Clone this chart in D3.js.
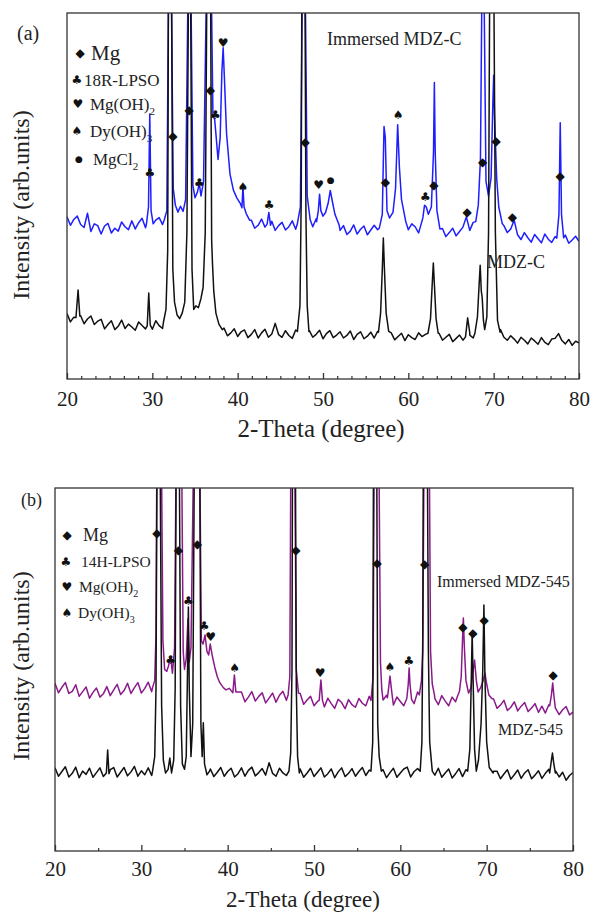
<!DOCTYPE html>
<html><head><meta charset="utf-8">
<script src="https://cdn.jsdelivr.net/npm/d3@7"></script>
<style>body{margin:0;background:#fff}svg{display:block}</style>
</head><body>
<svg id="chart" width="592" height="913"></svg>
<script>
// ---------- data ----------
const twoThetaStart = 20, twoThetaStep = 0.4;   // regular 2θ sampling of the baselines
const xTickValues = [20, 30, 40, 50, 60, 70, 80];

// Panel (a): Immersed MDZ-C (blue), MDZ-C (black); intensity in % of panel height
const blueAGrid = [
 44.3,42.0,43.6,44.5,42.2,41.4,45.3,40.3,42.4,41.9,
 39.6,41.8,42.5,39.9,41.2,40.4,42.9,41.6,40.8,43.2,
 41.0,42.7,43.9,41.3,42.5,40.9,43.4,44.1,42.2,43.0,
 44,44,44,44,44,44,44,44,44,44,
 44,44,44,44,44,44,44,44,44,44,
 44,44,44,44,43.4,41.2,42.0,43.7,41.5,41.8,
 43.1,40.6,41.9,42.8,40.7,41.6,43.2,40.9,43.0,44,
 44,44,41.6,43.8,43,43,43,43,43,42.0,
 40.6,41.9,39.5,40.4,42.1,39.6,40.9,41.8,39.4,40.7,
 42.0,40.8,42,42,42,42,42,42,42,42.6,
 40.8,42.4,41.6,39.9,42,42,42,42,42,42,
 41.1,38.9,40.0,41.2,39.1,40.3,41.5,44.3,40.6,42.8,
 42,42,42,42,42,42,42,42,41.9,40.0,
 41.0,43.4,39.4,38.1,40.0,38.6,37.4,39.5,38.3,37.2,
 39.6,38.2,37.3,38.9,38,38,39.3,37.1,38.0,39.0,
 37.6];
const blueAPeaks = [
 [[29.3,42.2],[29.55,47],[29.7,72.4],[29.85,46],[30.1,42.4]],
 [[31.4,43.5],[31.7,46],[31.88,100],[32.05,130],[32.25,100],[32.45,52],[32.7,47.5],[33.0,45.6],[33.3,47.2],[33.6,45.8],[33.9,49],
  [34.15,100],[34.35,130],[34.55,100],[34.75,53],[35.0,49.5],[35.3,51.2],[35.5,53.5],[35.7,50],[36.0,54],[36.3,100],[36.6,140],[36.95,100],
  [37.1,72],[37.3,71],[37.45,67],[37.7,60],[37.95,66],[38.15,84],[38.3,90.5],[38.45,82],[38.7,67],[39.1,56],[39.5,51.6],[39.9,49.5],
  [40.3,48],[40.5,46.8],[40.62,52.5],[40.75,47],[41.0,45.2],[41.4,43.4]],
 [[43.45,42.3],[43.65,45.5],[43.85,42]],
 [[47.0,42.5],[47.35,47],[47.55,100],[47.75,140],[47.95,100],[48.15,50],[48.5,43.5]],
 [[49.25,43],[49.45,46],[49.6,50.5],[49.75,46],[50.0,44.5],[50.3,45.5],[50.6,48],[50.85,51.5],[51.1,48.5],[51.4,45],[51.9,42]],
 [[56.6,41.2],[56.95,45],[57.15,69],[57.3,66],[57.5,46],[57.8,44],[58.2,45.5],[58.5,52],[58.75,69.5],[58.95,58],[59.2,49],[59.7,43]],
 [[61.4,41.5],[61.7,44],[61.9,47.5],[62.1,47],[62.35,45],[62.7,47],[62.95,62],[63.05,81],[63.15,62],[63.35,46],[63.7,41]],
 [[67.9,43],[68.2,47.5],[68.45,60],[68.6,100],[68.75,130],[68.9,100],[69.1,54],[69.4,50],[69.7,55],[69.9,75],[70.0,83],[70.1,72],
  [70.35,55],[70.6,47],[71.0,42.5]],
 [[77.4,38.5],[77.65,45],[77.8,70],[77.95,45],[78.2,38.6]]
];
const blackAGrid = [
 17.9,15.6,16.9,22.5,17.3,15.1,16.4,17.2,14.9,15.8,
 16.3,13.7,14.9,15.9,13.5,14.4,16.1,13.8,15.0,14.2,
 13.3,15.6,14.6,13.7,15,13.6,15.9,14.6,13.8,15,
 15,15,15,15,15,15,15,15,15,15,
 15,15,15,15,15,15,13.9,11.8,12.6,13.7,
 11.6,12.9,13.4,11.3,12.2,13.5,11.2,12.6,13.6,11.4,
 12.3,15.2,12.1,11.4,13.2,11.9,11.1,13.4,13,13,
 13,13.2,11.4,12.2,13.3,11.0,12.4,13.2,11.3,12.0,
 12.9,11.2,11.9,13.1,10.8,12.2,12.9,11.0,11.7,12.8,
 11.2,13.0,12,12,12,12.6,10.7,11.6,12.5,10.5,
 12.1,11.3,10.8,12.6,11.6,12.2,12,12,12,12.5,
 10.6,11.4,12.2,10.2,11.1,12.0,10.6,13.5,12.6,11.2,
 12,12,12,12,12,12,12,13.5,11.4,10.6,
 11.8,10.9,9.8,11.4,10.6,9.6,11.2,10.4,9.5,11.3,
 10.0,9.4,10.9,11.1,12.4,10.5,9.6,10.8,9.2,10.3,
 9.9];
const blackAPeaks = [
 [[21.05,16.8],[21.3,24.3],[21.5,17.2]],
 [[29.4,14.5],[29.58,23.5],[29.75,14.8]],
 [[31.3,15.5],[31.6,19],[31.8,35],[31.88,100],[32.07,140],[32.27,100],[32.4,30],[32.6,21],[32.9,17.5],[33.2,16.5],[33.5,18],[33.8,21],
  [34.05,40],[34.22,100],[34.36,140],[34.5,100],[34.65,30],[34.85,19],[35.1,20],[35.4,19.5],[35.7,22],[35.95,25],[36.2,40],[36.37,100],
  [36.6,150],[36.84,100],[36.95,38],[37.05,31.5],[37.2,24],[37.45,18],[37.8,15],[38.2,13.5]],
 [[47.0,13],[47.3,20],[47.45,50],[47.51,100],[47.7,150],[47.9,100],[48.0,45],[48.15,20],[48.35,13]],
 [[56.5,12.8],[56.75,18],[56.95,30],[57.07,38.5],[57.2,30],[57.4,18],[57.7,13]],
 [[62.3,12.5],[62.6,16.5],[62.8,26],[62.93,31.7],[63.05,26],[63.25,16.5],[63.5,12.5]],
 [[66.7,11.5],[66.95,16.7],[67.2,12]],
 [[67.8,12.5],[68.1,17],[68.3,26],[68.42,31.1],[68.55,24],[68.65,22.4],[68.8,16],[68.95,13.5],[69.2,17],[69.4,40],[69.52,100],
  [69.78,150],[70.04,100],[70.2,40],[70.45,16],[70.75,12.8]]
];

// Panel (b): Immersed MDZ-545 (purple), MDZ-545 (black)
const purpleBGrid = [
 46.2,43.6,45.1,46.4,43.4,44.0,45.8,42.6,43.9,45.2,
 42.1,43.7,44.9,42.4,43.3,45.3,42.8,44.4,45.9,43.1,
 44.2,46.2,43.4,45.0,46.4,43.5,44.8,46.5,43.9,45,
 45,45,45,45,45,45,45,45,45,45,
 45,45,45,45,45,45,45,45,45,45,
 45,45,45,45,43.8,41.1,42.4,43.9,41.3,42.6,
 43.6,40.8,42.1,43.5,41.0,42.9,44.0,41.5,43,43,
 43,43.4,40.4,41.6,42.6,40.0,41.2,41,39.7,42.1,
 40.6,39.3,41.8,40.9,39.2,41.7,40.3,39.6,42.0,40.7,
 40.0,42.6,41,41,41,41.6,42.9,41,40.2,42.4,
 41.2,40.0,41,41,40.6,43.8,42,42,42,43.5,
 42.0,40.3,42.8,41.3,40.0,42.4,41.1,42,42,42,
 42,42,42,42,42,42,42,41.9,39.3,40.2,
 41.5,38.7,39.6,41.1,38.6,39.9,40.9,38.4,39.4,40.6,
 38.2,39.9,38.0,40.3,40,39.2,37.6,38.9,39.8,37.5,
 38.3];
const purpleBPeaks = [
 [[31.3,45.0],[31.55,47],[31.7,60],[31.78,100],[32.07,140],[32.36,100],[32.5,58],[32.7,50],[32.95,49.5],[33.15,51],[33.4,53.5],
  [33.6,49],[33.85,56],[34.0,100],[34.35,140],[34.7,100],[34.85,55],[35.0,50],[35.2,53],[35.4,64],[35.55,52],[35.75,56],[36.0,100],
  [36.4,140],[36.8,100],[36.95,58],[37.15,57],[37.38,59.5],[37.6,55],[37.8,54],[37.98,57],[38.2,54],[38.5,50.7],[38.8,48],[39.1,46.3],
  [39.5,45],[39.8,44.4],[40.2,44.8],[40.6,43.6],[40.78,48.5],[40.95,43.8],[41.3,43.8]],
 [[47.0,43],[47.2,48],[47.3,100],[47.55,140],[47.8,100],[47.95,50],[48.2,43.5]],
 [[50.6,41.5],[50.8,47.1],[50.98,41.5]],
 [[56.6,41.5],[56.85,48],[56.95,100],[57.25,140],[57.55,100],[57.7,52],[57.85,44.5]],
 [[58.5,42.2],[58.65,45],[58.8,48.2],[58.95,45],[59.1,42]],
 [[60.75,42],[60.92,46],[61.02,50.4],[61.12,46],[61.3,41.8]],
 [[62.2,43],[62.45,47],[62.6,55],[62.72,100],[63.05,140],[63.38,100],[63.5,55],[63.7,46],[63.95,43]],
 [[66.6,42.5],[66.85,44],[67.05,48],[67.2,58],[67.3,64.2],[67.42,56],[67.6,47],[67.9,43.5],[68.2,45],[68.45,50],[68.6,52.6],
  [68.8,47],[69.0,43.8],[69.3,45],[69.6,47],[69.8,49],[70.0,46],[70.25,43],[70.6,42]],
 [[77.3,40],[77.5,43],[77.65,46.3],[77.8,42.5],[77.95,39.5]]
];
const blackBGrid = [
 22.9,20.6,21.9,23.2,20.4,21.4,23.1,20.2,22.0,21.1,
 22.8,20.3,21.6,22.9,20.5,21,22.4,23.0,20.4,21.7,
 23.0,20.7,21.8,23.3,20.6,22.1,21.0,22.9,20.8,22,
 22,22,22,22,22,22,22,22,22,22,
 22,22,22,22,22,22.6,20.5,21.7,23.0,20.6,
 21.9,22.8,20.4,21.3,22.9,20.6,22.2,23.1,20.7,21.6,
 22.7,20.9,24.3,21.4,20.6,22.8,21.5,20.8,22,22,
 22,22.6,20.3,21.5,22.8,20.5,21.7,22.9,20.4,21.3,
 22.6,20.2,21.8,22.9,20.5,21.4,22.7,20.6,21.9,23.0,
 20.8,22.3,22,22,22,22.4,20.2,21.6,22.8,20.3,
 21.5,22.6,23.1,20.4,21.9,22.7,22,22,22,22,
 20.9,22.8,20.3,21.5,22.6,20.1,21.3,22.7,20.5,22.4,
 22,22,22,22,22,22,22,22,22.0,19.9,
 21.2,22.4,19.8,21.0,22.3,20.0,21.5,22.4,19.9,20.9,
 22.1,20.0,21.4,22.5,22,22,20.4,21.7,19.5,20.8,
 21.6];
const blackBPeaks = [
 [[25.95,21.5],[26.1,27.8],[26.25,21.3]],
 [[31.3,22],[31.55,26],[31.7,45],[31.8,100],[32.0,150],[32.2,100],[32.35,40],[32.55,25],[32.8,21.5],[33.1,22.5],[33.3,25.6],[33.5,21.5],
  [33.75,25],[33.92,45],[34.02,100],[34.22,150],[34.42,100],[34.55,40],[34.75,24],[35.0,22.5],[35.2,26],[35.35,50],[35.45,67.2],
  [35.55,45],[35.75,26],[35.95,35],[36.12,100],[36.45,150],[36.78,100],[36.9,35],[37.05,26],[37.18,35.3],[37.32,24],[37.6,21],[37.9,22]],
 [[47.1,22],[47.3,27],[47.45,50],[47.5,100],[47.68,150],[47.86,100],[47.95,45],[48.1,26],[48.3,21.5]],
 [[56.6,22],[56.8,30],[56.88,100],[57.08,150],[57.28,100],[57.38,35],[57.55,26],[57.8,22]],
 [[62.3,22],[62.5,30],[62.6,60],[62.65,100],[62.9,150],[63.15,100],[63.25,55],[63.4,30],[63.7,22]],
 [[67.8,22],[68.05,28],[68.2,45],[68.32,60.3],[68.45,45],[68.6,28],[68.8,22],[69.05,25],[69.35,35],[69.55,50],[69.68,67.8],[69.8,48],
  [70.0,30],[70.3,23],[70.75,21.5]],
 [[77.3,21.5],[77.5,25],[77.62,27],[77.75,24.5],[77.95,21.5]]
];

// phase markers [2θ, intensity]
const mgMarksA = [[32.4,66.4],[34.3,73.5],[36.8,79.0],[47.9,64.8],[57.3,53.8],[63.0,53.0],[66.9,45.6],[68.7,59.3],[70.3,65.0],[72.2,44.3],[77.8,55.5]];
const lpsoMarksA = [[29.7,56.3],[35.5,53.6],[37.4,72.1],[43.7,47.5],[62.0,49.7]];
const mgoh2MarksA = [[38.3,91.8],[49.5,53.0]];
const dyoh3MarksA = [[40.6,52.5],[58.8,72.1]];
const mgcl2MarksA = [[50.9,54.4]];
const mgMarksB = [[31.8,87.6],[34.3,82.9],[36.5,84.6],[47.9,82.9],[57.3,79.3],[62.8,79.1],[67.24,61.7],[68.4,60.1],[69.7,63.6],[77.7,48.5]];
const lpsoMarksB = [[33.4,52.6],[35.45,68.9],[37.27,62.0],[61.0,52.3]];
const mgoh2MarksB = [[38.04,59.0],[50.7,49.0]];
const dyoh3MarksB = [[40.8,50.4],[58.8,50.7]];

// ---------- drawing ----------
const svg = d3.select("#chart");
const serif = '"Liberation Serif","Times New Roman",serif';
const symFont = '"DejaVu Sans",sans-serif';
const GLYPH = {mg:"\u25C6", lpso:"\u2663", oh2:"\u2665", oh3:"\u2660", cl:"\u25CF"};
const defs = svg.append("defs");

function merge(grid, peaks) {
  const pts = [];
  grid.forEach((v, i) => {
    const xv = twoThetaStart + i * twoThetaStep;
    if (!peaks.some(p => xv > p[0][0] && xv < p[p.length - 1][0])) pts.push([xv, v]);
  });
  peaks.forEach(p => p.forEach(d => pts.push(d)));
  pts.sort((a, b) => a[0] - b[0]);
  return pts;
}

function addText(g, x, y, str, size, opts = {}) {
  const t = g.append("text").attr("x", x).attr("y", y)
    .style("font-family", serif).style("font-size", size + "px").attr("fill", "#222");
  if (opts.anchor) t.attr("text-anchor", opts.anchor);
  if (opts.rotate) t.attr("transform", `rotate(-90,${x},${y})`);
  if (opts.sub) {
    t.append("tspan").text(str);
    t.append("tspan").text(opts.sub).attr("dy", size * 0.3).style("font-size", (size * 0.65) + "px");
  } else t.text(str);
  return t;
}

function drawPanel(cfg) {
  const x = d3.scaleLinear().domain([20, 80]).range([cfg.left, cfg.right]);
  const y = d3.scaleLinear().domain([0, 100]).range([cfg.bottom, cfg.top]);
  const g = svg.append("g");
  const clipId = "clip-" + cfg.id;
  defs.append("clipPath").attr("id", clipId).append("rect")
    .attr("x", cfg.left).attr("y", cfg.top).attr("width", cfg.right - cfg.left).attr("height", cfg.bottom - cfg.top);
  const line = d3.line().x(d => x(d[0])).y(d => y(d[1]));
  const plot = g.append("g").attr("clip-path", `url(#${clipId})`);
  cfg.series.forEach(s => {
    plot.append("path").datum(merge(s.grid, s.peaks)).attr("d", line)
      .attr("fill", "none").attr("stroke", s.color).attr("stroke-width", 1.5).attr("stroke-linejoin", "round");
  });
  cfg.markers.forEach(m => {
    g.append("g").selectAll("text").data(m.data).join("text")
      .attr("x", d => x(d[0])).attr("y", d => y(d[1]))
      .attr("text-anchor", "middle").attr("dominant-baseline", "central")
      .style("font-family", symFont).style("font-size", m.size + "px").attr("fill", "#111")
      .text(m.glyph);
  });
  g.append("rect").attr("x", cfg.left).attr("y", cfg.top)
    .attr("width", cfg.right - cfg.left).attr("height", cfg.bottom - cfg.top)
    .attr("fill", "none").attr("stroke", "#333").attr("stroke-width", 1.3);
  const ax = g.append("g").attr("transform", `translate(0,${cfg.bottom})`)
    .call(d3.axisBottom(x).tickValues(xTickValues).tickSizeInner(-6).tickSizeOuter(0).tickPadding(cfg.pad).tickFormat(d3.format("d")));
  ax.select(".domain").remove();
  ax.selectAll("line").attr("stroke", "#333").attr("stroke-width", 1.3);
  ax.selectAll("text").style("font-family", serif).style("font-size", "21px").attr("fill", "#222");
  const minor = g.append("g").attr("transform", `translate(0,${cfg.bottom})`)
    .call(d3.axisBottom(x).tickValues(cfg.minor).tickSizeInner(-3).tickSizeOuter(0).tickFormat(() => ""));
  minor.select(".domain").remove();
  minor.selectAll("line").attr("stroke", "#333").attr("stroke-width", 1.2);
  return g;
}

const minorA = d3.range(0, 36).map(k => 20 + k * 10 / 6).filter(v => Math.abs(v - Math.round(v / 10) * 10) > 0.01);
const minorB = [25, 35, 45, 55, 65, 75];

const gA = drawPanel({
  id: "a", left: 67, right: 579, top: 13, bottom: 379, pad: 12, minor: minorA,
  series: [
    {grid: blueAGrid, peaks: blueAPeaks, color: "#1e1eff"},
    {grid: blackAGrid, peaks: blackAPeaks, color: "#111"}
  ],
  markers: [
    {data: mgMarksA, glyph: GLYPH.mg, size: 12},
    {data: lpsoMarksA, glyph: GLYPH.lpso, size: 12},
    {data: mgoh2MarksA, glyph: GLYPH.oh2, size: 12},
    {data: dyoh3MarksA, glyph: GLYPH.oh3, size: 12},
    {data: mgcl2MarksA, glyph: GLYPH.cl, size: 9}
  ]
});
const gB = drawPanel({
  id: "b", left: 55, right: 573, top: 488, bottom: 851, pad: 10, minor: minorB,
  series: [
    {grid: purpleBGrid, peaks: purpleBPeaks, color: "#8a1a8a"},
    {grid: blackBGrid, peaks: blackBPeaks, color: "#111"}
  ],
  markers: [
    {data: mgMarksB, glyph: GLYPH.mg, size: 12},
    {data: lpsoMarksB, glyph: GLYPH.lpso, size: 12},
    {data: mgoh2MarksB, glyph: GLYPH.oh2, size: 12},
    {data: dyoh3MarksB, glyph: GLYPH.oh3, size: 12}
  ]
});

function legendGlyph(g, x, y, glyph, size) {
  g.append("text").attr("x", x).attr("y", y).attr("text-anchor", "middle").attr("dominant-baseline", "central")
    .style("font-family", symFont).style("font-size", size + "px").attr("fill", "#111").text(glyph);
}
// panel (a)
legendGlyph(gA, 80, 53, GLYPH.mg, 12);
addText(gA, 91, 60, "Mg", 21);
legendGlyph(gA, 77, 80, GLYPH.lpso, 12);
addText(gA, 84, 86, "18R-LPSO", 17);
legendGlyph(gA, 78, 104, GLYPH.oh2, 12);
addText(gA, 90, 110, "Mg(OH)", 17, {sub: "2"});
legendGlyph(gA, 77, 131, GLYPH.oh3, 12);
addText(gA, 90, 137, "Dy(OH)", 17, {sub: "3"});
legendGlyph(gA, 79, 159, GLYPH.cl, 9);
addText(gA, 93, 165, "MgCl", 17, {sub: "2"});
addText(gA, 327, 45, "Immersed MDZ-C", 18);
addText(gA, 487, 268, "MDZ-C", 18);
addText(gA, 17, 40, "(a)", 20);
addText(gA, 21, 205, "Intensity (arb.units)", 24, {anchor: "middle", rotate: true}).attr("dy", "0.35em");
addText(gA, 321, 437, "2-Theta (degree)", 25, {anchor: "middle"});
// panel (b)
legendGlyph(gB, 67, 535, GLYPH.mg, 12);
addText(gB, 83, 541, "Mg", 18);
legendGlyph(gB, 66, 562, GLYPH.lpso, 12);
addText(gB, 81, 567, "14H-LPSO", 15.5);
legendGlyph(gB, 67, 587, GLYPH.oh2, 12);
addText(gB, 79, 592, "Mg(OH)", 15.5, {sub: "2"});
legendGlyph(gB, 67, 613, GLYPH.oh3, 12);
addText(gB, 78, 618, "Dy(OH)", 15.5, {sub: "3"});
addText(gB, 437, 587, "Immersed MDZ-545", 16);
addText(gB, 498, 735, "MDZ-545", 16);
addText(gB, 21, 506, "(b)", 18);
addText(gB, 21, 666, "Intensity (arb.units)", 24, {anchor: "middle", rotate: true}).attr("dy", "0.35em");
addText(gB, 303, 907, "2-Theta (degree)", 23, {anchor: "middle"});
</script>
</body></html>
